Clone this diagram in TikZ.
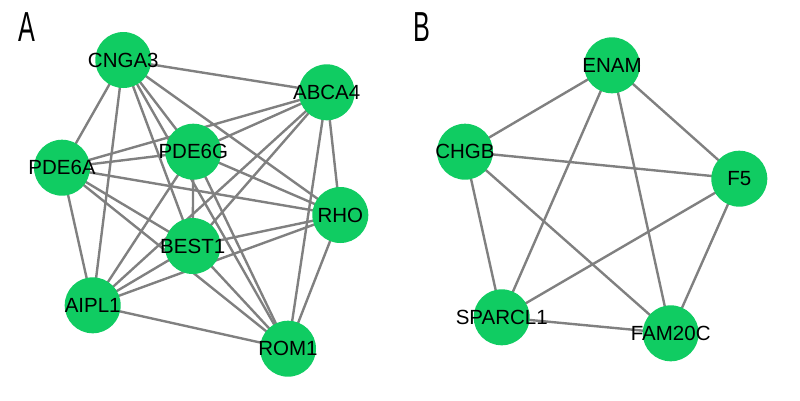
\documentclass[tikz,border=0pt]{standalone}
\usepackage{fontspec}
\setmainfont{Liberation Sans}
\usetikzlibrary{backgrounds}
\definecolor{nodegreen}{RGB}{16,204,98}
\definecolor{edgegray}{RGB}{128,128,128}
\begin{document}
\begin{tikzpicture}[x=1pt,y=-1pt,
  gene/.style={circle, fill=nodegreen, minimum size=56pt, inner sep=0pt},
  glabel/.style={font=\fontsize{20.5}{24}\selectfont, text=black},
  link/.style={draw=edgegray, line width=2.4pt},
  panel/.style={font=\fontsize{42}{42}\selectfont, inner sep=0pt}]
\useasboundingbox (0,0) rectangle (800,400);
% panel letters
\node[panel] (labA) at (27,27.5) {\scalebox{0.6}[1]{A}};
\node[panel] (labB) at (422,27.5) {\scalebox{0.6}[1]{B}};
% panel A nodes
\node[gene, label={[glabel]center:CNGA3}] (cnga3) at (123.3,60) {};
\node[gene, label={[glabel]center:ABCA4}] (abca4) at (326.7,92.3) {};
\node[gene, label={[glabel]center:PDE6G}] (pde6g) at (193.3,151.7) {};
\node[gene, label={[glabel]center:PDE6A}] (pde6a) at (62,167.7) {};
\node[gene, label={[glabel]center:RHO}] (rho) at (340.3,215) {};
\node[gene, label={[glabel]center:BEST1}] (best1) at (192.7,246) {};
\node[gene, label={[glabel]center:AIPL1}] (aipl1) at (92.7,305.3) {};
\node[gene, label={[glabel]center:ROM1}] (rom1) at (288,348.7) {};
% panel B nodes
\node[gene, label={[glabel]center:ENAM}] (enam) at (612,65.3) {};
\node[gene, label={[glabel]center:CHGB}] (chgb) at (465,151.7) {};
\node[gene, label={[glabel]center:F5}] (f5) at (739.3,178.7) {};
\node[gene, label={[glabel]center:SPARCL1}] (sparcl1) at (501.7,317.3) {};
\node[gene, label={[glabel]center:FAM20C}] (fam20c) at (670.7,333.3) {};
\begin{scope}[on background layer]
\foreach \a/\b in {cnga3/abca4, cnga3/pde6g, cnga3/pde6a, cnga3/rho, cnga3/best1, cnga3/aipl1, cnga3/rom1,
  abca4/pde6g, abca4/pde6a, abca4/rho, abca4/best1, abca4/aipl1, abca4/rom1,
  pde6g/pde6a, pde6g/rho, pde6g/best1, pde6g/aipl1, pde6g/rom1,
  pde6a/rho, pde6a/best1, pde6a/aipl1, pde6a/rom1,
  rho/best1, rho/aipl1, rho/rom1,
  best1/aipl1, best1/rom1,
  aipl1/rom1,
  enam/chgb, enam/f5, enam/sparcl1, enam/fam20c,
  chgb/f5, chgb/sparcl1, chgb/fam20c,
  f5/sparcl1, f5/fam20c,
  sparcl1/fam20c}
  \draw[link] (\a.center) -- (\b.center);
\end{scope}
\end{tikzpicture}
\end{document}
